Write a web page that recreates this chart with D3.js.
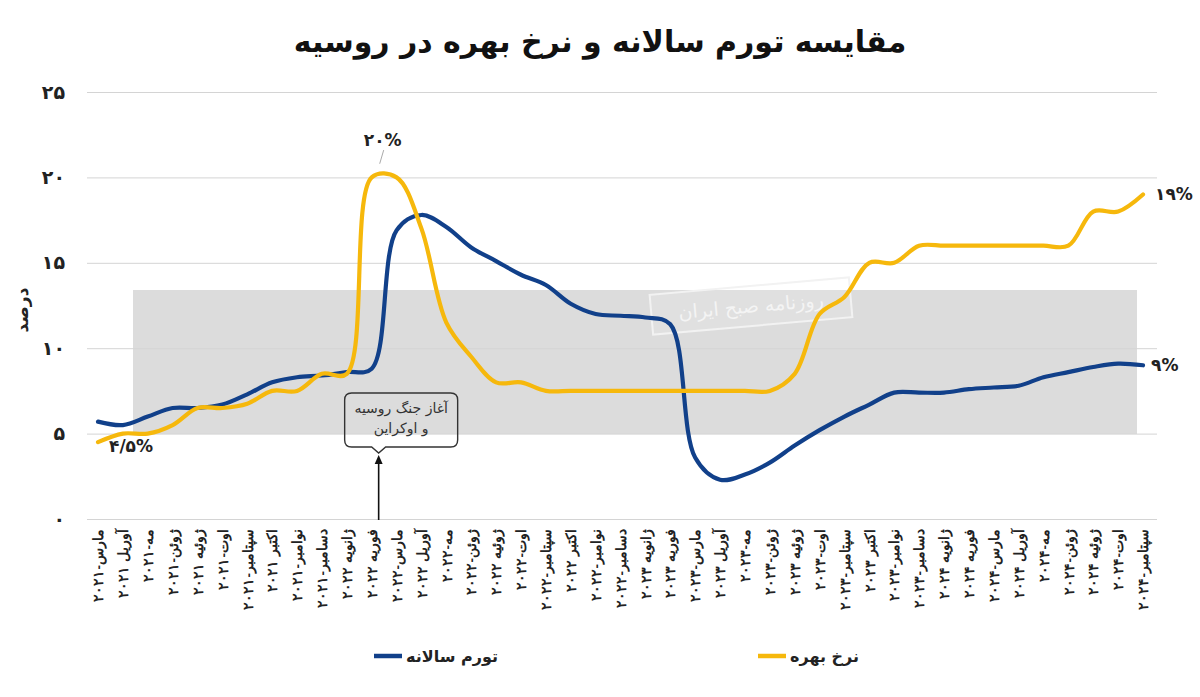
<!DOCTYPE html>
<html><head><meta charset="utf-8">
<script src="https://cdn.jsdelivr.net/npm/d3@7"></script>
<style>
body{margin:0;background:#fff;}
svg{display:block;font-family:"DejaVu Sans","Noto Sans",sans-serif;}
</style></head>
<body><svg id="c" width="1200" height="697"></svg>
<script>
const months = ["مارس-2021","آوریل 2021","مه-2021","ژوئن-2021","ژوئیه 2021","اوت-2021","سپتامبر-2021","اکتبر 2021","نوامبر-2021","دسامبر-2021",
"ژانویه 2022","فوریه 2022","مارس-2022","آوریل 2022","مه-2022","ژوئن-2022","ژوئیه 2022","اوت-2022","سپتامبر-2022","اکتبر 2022","نوامبر-2022","دسامبر-2022",
"ژانویه 2023","فوریه 2023","مارس-2023","آوریل 2023","مه-2023","ژوئن-2023","ژوئیه 2023","اوت-2023","سپتامبر-2023","اکتبر 2023","نوامبر-2023","دسامبر-2023",
"ژانویه 2024","فوریه 2024","مارس-2024","آوریل 2024","مه-2024","ژوئن-2024","ژوئیه 2024","اوت-2024","سپتامبر-2024"];
const inflation = [5.7,5.5,6.0,6.5,6.5,6.7,7.3,8.0,8.3,8.4,
8.6,8.8,16.9,17.8,17.1,15.9,15.1,14.3,13.7,12.6,12.0,11.9,
11.8,11.4,3.6,2.3,2.6,3.3,4.3,5.2,6.0,6.7,7.4,7.4,
7.4,7.6,7.7,7.8,8.3,8.6,8.9,9.1,9.0];
const interest = [4.5,5.0,5.0,5.5,6.5,6.5,6.75,7.5,7.5,8.5,
8.5,20,20,17,11.5,9.5,8,8,7.5,7.5,7.5,7.5,
7.5,7.5,7.5,7.5,7.5,7.5,8.5,12,13,15,15,16,
16,16,16,16,16,16,18,18,19];
const yTicks = [0,5,10,15,20,25];
const seriesNames = ["تورم سالانه","نرخ بهره"];
const colors = ["#11408a","#f6b80c"];
const title = "مقایسه تورم سالانه و نرخ بهره در روسیه";
const yTitle = "درصد";
const warText = ["آغاز جنگ روسیه","و اوکراین"];
const warMonth = "فوریه 2022";

const fa = s => String(s).replace(/\d/g, d => "۰۱۲۳۴۵۶۷۸۹"[d]);

const svg = d3.select("#c");
const x = d3.scalePoint().domain(months).range([98,1143]);
const y = d3.scaleLinear().domain([0,25]).range([519,92]);

// title
svg.append("text").attr("x",600).attr("y",52).attr("text-anchor","middle")
  .attr("font-size",30).attr("font-weight","bold").attr("fill","#111").text(title);

// watermark band
svg.append("rect").attr("x",133).attr("y",290).attr("width",1004).attr("height",144).attr("fill","#dcdcdc");

// grid + y axis
const yAxis = svg.append("g").attr("transform","translate(87,0)")
  .call(d3.axisLeft(y).tickValues(yTicks).tickSize(-1070).tickPadding(22).tickFormat(fa));
yAxis.select(".domain").remove();
yAxis.selectAll(".tick line").attr("stroke","#d4d4d4").attr("stroke-width",1);
yAxis.selectAll(".tick text").attr("font-size",19).attr("font-weight","bold").attr("fill","#222")
  .attr("font-family","DejaVu Sans");

svg.append("text").attr("transform","translate(28,310) rotate(-90)").attr("text-anchor","middle")
  .attr("font-size",17).attr("font-weight","bold").attr("fill","#222").text(yTitle);

// watermark label box
const wm = svg.append("g").attr("transform","translate(751,306) rotate(-5)");
wm.append("rect").attr("x",-100).attr("y",-20).attr("width",200).attr("height",40)
  .attr("fill","rgba(255,255,255,0.12)").attr("stroke","#f2f2f2").attr("stroke-width",2);
wm.append("text").attr("text-anchor","middle").attr("dy","0.35em").attr("font-size",19)
  .attr("fill","#f4f4f4").text("روزنامه صبح ایران");

// x axis
const xAxis = svg.append("g").attr("transform","translate(0,519)")
  .call(d3.axisBottom(x).tickSize(0).tickPadding(0).tickFormat(fa));
xAxis.select(".domain").remove();
xAxis.selectAll(".tick text")
  .attr("transform","rotate(-90)").attr("x",-10).attr("y",0).attr("dy","0.35em")
  .attr("text-anchor","end").attr("font-size",13.5).attr("font-weight","bold").attr("fill","#222");

// lines
const line = d3.line().x((d,i)=>x(months[i])).y(d=>y(d)).curve(d3.curveCatmullRom.alpha(0.5));
[inflation, interest].forEach((s,k)=>{
  svg.append("path").datum(s).attr("d",line).attr("fill","none")
    .attr("stroke",colors[k]).attr("stroke-width",4.2).attr("stroke-linecap","round");
});

// value labels
const lab = (t,xx,yy,anchor)=>svg.append("text").attr("x",xx).attr("y",yy).attr("text-anchor",anchor||"middle")
  .attr("dy","0.35em").attr("font-size",17).attr("font-weight","bold").attr("fill","#222")
  .attr("font-family","DejaVu Sans").text(t);
lab(fa("4/5%"), x(months[0])+33, y(interest[0])+4);
lab(fa("20%"), x(warMonth)+11, y(22.2));
svg.append("line").attr("x1",x(warMonth)+12).attr("y1",y(21.6)).attr("x2",x(warMonth)+8).attr("y2",y(20.8))
  .attr("stroke","#aaa").attr("stroke-width",1);
lab(fa("19%"), x(months[42])+12, y(interest[42]), "start");
lab(fa("9%"), x(months[42])+8, y(inflation[42]), "start");

// war annotation
const ax = x(warMonth) + 0.28*x.step();
const bx0 = ax-34, bx1 = ax+79, by0 = 393, by1 = 447, r = 7;
svg.append("path").attr("d",
  `M${bx0+r},${by0} H${bx1-r} Q${bx1},${by0} ${bx1},${by0+r} V${by1-r} Q${bx1},${by1} ${bx1-r},${by1} H${ax+7} L${ax},${by1+6} L${ax-7},${by1} H${bx0+r} Q${bx0},${by1} ${bx0},${by1-r} V${by0+r} Q${bx0},${by0} ${bx0+r},${by0} Z`)
  .attr("fill","none").attr("stroke","#333").attr("stroke-width",1.4);
warText.forEach((t,i)=>svg.append("text").attr("x",(bx0+bx1)/2).attr("y",413+i*20).attr("text-anchor","middle")
  .attr("font-size",14).attr("fill","#333").text(t));
svg.append("line").attr("x1",ax).attr("y1",y(0)+1).attr("x2",ax).attr("y2",462)
  .attr("stroke","#111").attr("stroke-width",1.6);
svg.append("path").attr("d",`M${ax},455 L${ax-4},464 L${ax+4},464 Z`).attr("fill","#111");

// legend
const leg = [{x:374,k:0},{x:758,k:1}];
leg.forEach(l=>{
  svg.append("line").attr("x1",l.x).attr("x2",l.x+28).attr("y1",656).attr("y2",656)
    .attr("stroke",colors[l.k]).attr("stroke-width",4.5);
  svg.append("text").attr("x",l.x+32).attr("y",656).attr("dy","0.35em").attr("font-size",16)
    .attr("font-weight","bold").attr("fill","#222").text(seriesNames[l.k]);
});
</script></body></html>
